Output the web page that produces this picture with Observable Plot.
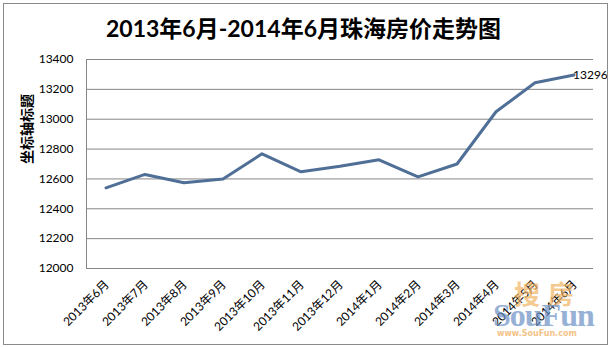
<!DOCTYPE html>
<html><head><meta charset="utf-8">
<script src="https://cdn.jsdelivr.net/npm/d3@7"></script>
<script src="https://cdn.jsdelivr.net/npm/@observablehq/plot@0.6"></script>
<style>
body{margin:0;background:#fff;}
#wrap{position:relative;width:611px;height:347px;overflow:hidden;font-family:Lato,"Noto Sans CJK SC",sans-serif;background:#fff;}
#title{height:50px;box-sizing:border-box;padding-top:6px;line-height:44px;text-align:center;font-size:23px;font-weight:bold;color:#000;padding-right:4px;}
#border{position:absolute;left:3px;top:3px;width:603px;height:340px;border:1px solid #8a8a8a;pointer-events:none;}
.wm{position:absolute;pointer-events:none;white-space:nowrap;}
</style>
</head><body>
<div id="wrap">
<div id="title">2013年6月-2014年6月珠海房价走势图</div>
<div id="chart"></div>
<div class="wm" style="left:514px;top:274px;font-size:26px;font-weight:bold;color:#f2b462;opacity:0.7;font-family:'Noto Sans CJK SC';letter-spacing:8px;">搜房</div>
<div class="wm" style="left:493px;top:297px;font-size:32px;font-weight:bold;color:#6a90c6;opacity:0.7;font-family:'Liberation Serif',serif;letter-spacing:-1px;">SouFun</div>
<div class="wm" style="left:497px;top:329px;font-size:8px;font-weight:bold;color:#f0b46a;opacity:0.8;font-family:'DejaVu Sans';">www.SouFun.com</div>
<div id="border"></div>
</div>
<script>
const months = ["2013年6月","2013年7月","2013年8月","2013年9月","2013年10月","2013年11月","2013年12月","2014年1月","2014年2月","2014年3月","2014年4月","2014年5月","2014年6月"];
const prices = [12540, 12630, 12575, 12600, 12768, 12648, 12685, 12728, 12614, 12700, 13050, 13244, 13296];
const yTicks = [12000, 12200, 12400, 12600, 12800, 13000, 13200, 13400];
const yTitle = "坐标轴标题";
const lastLabel = [prices[prices.length - 1]];

const chart = Plot.plot({
  width: 611,
  height: 297,
  marginLeft: 86,
  marginRight: 18,
  marginTop: 9,
  marginBottom: 79,
  style: {fontFamily: "Lato, 'Noto Sans CJK SC', sans-serif", fontSize: "12px", color: "#000", background: "transparent"},
  x: {domain: [-0.5, months.length - 0.5], axis: null},
  y: {domain: [12000, 13400]},
  marks: [
    Plot.gridY(yTicks, {stroke: "#868686", strokeOpacity: 1}),
    Plot.ruleX([-0.5], {stroke: "#868686"}),
    Plot.axisY(yTicks, {tickSize: 0, tickPadding: 13, fontSize: 12, label: null, tickFormat: d => String(d)}),
    Plot.text(months, {x: (d, i) => i, text: d => d, frameAnchor: "bottom", dy: 14, dx: 1, rotate: -45, textAnchor: "end", lineAnchor: "middle", fontSize: 12, fill: "#000"}),
    Plot.line(prices, {x: (d, i) => i, y: d => d, stroke: "#4f6f97", strokeWidth: 3}),
    Plot.text(lastLabel, {x: months.length - 1, y: d => d, text: d => String(d), textAnchor: "start", dx: -1, fontSize: 12, fill: "#000"}),
    Plot.text([yTitle], {frameAnchor: "left", dx: -59, rotate: -90, text: d => d, fontWeight: "bold", fontSize: 14, fill: "#000"})
  ]
});
document.getElementById("chart").appendChild(chart);
</script>
</body></html>
